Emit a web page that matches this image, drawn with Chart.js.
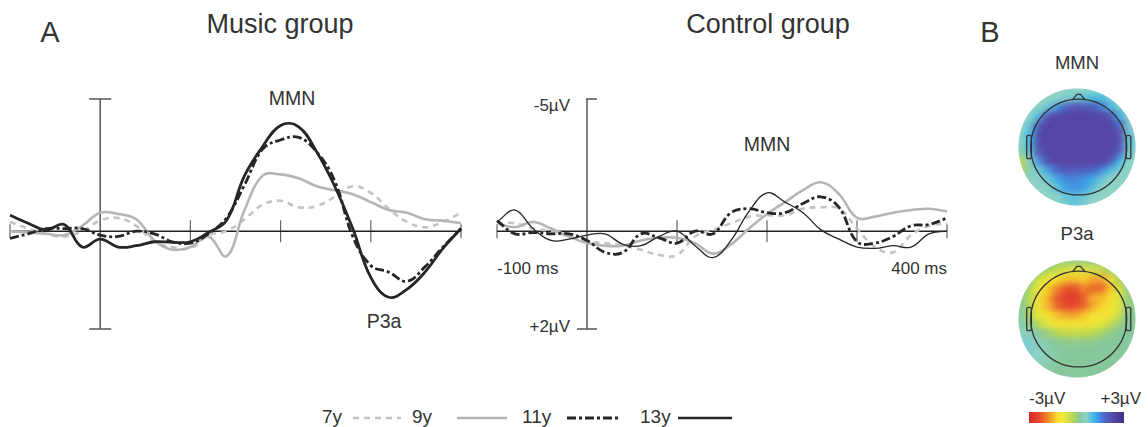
<!DOCTYPE html>
<html>
<head>
<meta charset="utf-8">
<script src="https://cdn.jsdelivr.net/npm/chart.js@4.4.1/dist/chart.umd.min.js"></script>
<style>
  body { margin: 0; background: #fff; width: 1148px; height: 427px; position: relative; overflow: hidden;
         font-family: "Liberation Sans", Arial, sans-serif; color: #333; }
  .t { position: absolute; white-space: nowrap; line-height: 1; transform: translate(-50%, -50%); }
  .r { transform: translate(-100%, -50%); }
  .l { transform: translate(0, -50%); }
  canvas { position: absolute; }
  svg { position: absolute; }
</style>
</head>
<body>
<div class="t" style="left:50px;top:32px;font-size:29px">A</div>
<div class="t" style="left:280px;top:24px;font-size:27px">Music group</div>
<div class="t" style="left:768px;top:24px;font-size:27px">Control group</div>
<div class="t" style="left:990px;top:32px;font-size:29px">B</div>

<div class="t" style="left:292px;top:99px;font-size:19.5px">MMN</div>
<div class="t" style="left:384px;top:322px;font-size:19.5px">P3a</div>
<div class="t" style="left:767px;top:145px;font-size:19.5px">MMN</div>
<div class="t r" style="left:570px;top:105px;font-size:17px">-5µV</div>
<div class="t r" style="left:570px;top:326px;font-size:17px">+2µV</div>
<div class="t l" style="left:497px;top:268px;font-size:17px">-100 ms</div>
<div class="t r" style="left:947px;top:268px;font-size:17px">400 ms</div>

<div class="t" style="left:1077px;top:63px;font-size:18.5px">MMN</div>
<div class="t" style="left:1077px;top:234px;font-size:18.5px">P3a</div>
<div class="t l" style="left:1029px;top:398px;font-size:17px">-3µV</div>
<div class="t r" style="left:1141px;top:398px;font-size:17px">+3µV</div>
<div id="cbar" style="position:absolute;left:1029px;top:412px;width:95px;height:11px"></div>

<!-- legend -->
<div class="t l" style="left:322px;top:416px;font-size:19px">7y</div>
<svg style="left:350px;top:410px" width="54" height="16"><line x1="3" y1="8" x2="51" y2="8" stroke="#c3c3c3" stroke-width="2.5" stroke-dasharray="6 5"/></svg>
<div class="t l" style="left:412px;top:416px;font-size:19px">9y</div>
<svg style="left:454px;top:410px" width="56" height="16"><line x1="3" y1="8" x2="53" y2="8" stroke="#b5b5b5" stroke-width="2.5"/></svg>
<div class="t l" style="left:522px;top:416px;font-size:19px">11y</div>
<svg style="left:564px;top:410px" width="60" height="16"><line x1="3" y1="8" x2="57" y2="8" stroke="#262626" stroke-width="3" stroke-dasharray="9 3 3 3"/></svg>
<div class="t l" style="left:640px;top:416px;font-size:19px">13y</div>
<svg style="left:676px;top:410px" width="58" height="16"><line x1="2" y1="8" x2="56" y2="8" stroke="#262626" stroke-width="2.5"/></svg>

<canvas id="music" width="480" height="270" style="left:0;top:80px"></canvas>
<canvas id="control" width="480" height="270" style="left:480px;top:80px"></canvas>
<canvas id="topoMMN" width="134" height="134" style="left:1010px;top:80px"></canvas>
<canvas id="topoP3a" width="134" height="134" style="left:1010px;top:252px"></canvas>

<script>
// time points (ms), values in µV (negative is up)
const times = [-100,-80,-60,-40,-20,0,20,40,60,80,100,120,140,160,180,200,220,240,260,280,300,320,340,360,380,400];

const music7  = [-0.35,-0.1,0.1,0.2,0.0,-0.4,-0.5,-0.2,0.4,0.6,0.65,0.15,0.0,-0.45,-1.0,-1.15,-0.9,-0.95,-1.3,-1.7,-1.45,-0.85,-0.35,-0.15,-0.35,-0.7];
const music9  = [0,0.05,0.1,0.15,-0.2,-0.7,-0.65,-0.45,0.35,0.7,0.6,0.2,0.95,-0.8,-2.1,-2.15,-2.0,-1.7,-1.55,-1.4,-1.1,-0.8,-0.7,-0.45,-0.4,-0.3];
const music11 = [0.27,0.1,-0.1,-0.1,-0.1,0.15,0.2,0.0,0.1,0.4,0.45,0.1,-0.5,-1.75,-3.1,-3.45,-3.55,-3.0,-1.9,0.2,1.3,1.55,1.9,1.35,0.6,-0.1];
const music13 = [-0.6,-0.3,-0.05,-0.25,0.6,0.3,0.6,0.55,0.4,0.42,0.4,0.05,-0.4,-2.1,-3.2,-4.0,-3.95,-3.0,-1.7,-0.1,1.75,2.5,2.2,1.55,0.65,-0.1];

const ctrl7  = [-0.3,-0.3,-0.1,0.0,0.2,0.4,0.45,0.55,0.7,0.9,0.9,0.2,-0.05,-0.3,-0.55,-0.6,-0.6,-0.85,-0.9,-0.85,-0.1,0.6,0.8,0.15,-0.2,-0.3];
const ctrl9  = [-0.3,-0.15,-0.35,-0.1,0.2,0.45,0.55,0.55,0.35,0.25,0.25,0.45,0.85,0.5,-0.1,-0.65,-1.1,-1.55,-1.85,-1.4,-0.5,-0.55,-0.7,-0.8,-0.85,-0.75];
const ctrl11 = [-0.4,0.1,0.05,0.1,0.1,0.35,0.8,0.8,0.1,0.25,0.45,0.0,0.1,-0.7,-0.85,-0.7,-0.7,-1.05,-1.3,-0.9,0.4,0.45,0.2,-0.2,-0.25,-0.5];
const ctrl13 = [-0.35,-0.8,-0.1,0.35,0.3,0.15,0.1,0.5,0.55,0.2,0.0,0.55,1.0,0.35,-0.75,-1.45,-1.1,-0.7,-0.05,0.3,0.6,0.65,0.55,0.6,0.1,0.0];

// topographic maps, 13x13 grid of µV, rows top (nose) to bottom
const topoMMN = [
  [0.6,0.6,0.6,0.6,0.6,0.6,0.6,0.6,0.6,0.6,0.6,0.6,0.6],
  [0.6,0.6,0.6,0.6,0.6,0.7,0.8,0.9,1.0,1.0,0.8,0.6,0.6],
  [0.6,0.6,0.6,0.8,1.3,1.9,2.1,2.1,2.0,1.6,1.0,0.7,0.6],
  [0.6,0.6,1.0,2.1,2.4,2.4,2.4,2.4,2.4,2.4,2.1,1.1,0.6],
  [0.6,0.8,2.0,2.4,2.4,2.4,2.4,2.4,2.4,2.4,2.4,1.8,0.7],
  [0.6,1.1,2.3,2.4,2.4,2.4,2.4,2.4,2.4,2.4,2.4,2.2,0.8],
  [0.6,1.1,2.3,2.4,2.4,2.4,2.4,2.4,2.4,2.4,2.4,2.2,0.8],
  [0.3,0.9,2.1,2.4,2.4,2.4,2.4,2.4,2.4,2.4,2.4,1.9,0.7],
  [-0.3,0.6,1.4,2.2,2.4,2.4,2.4,2.4,2.4,2.4,2.1,1.1,0.6],
  [-0.2,0.4,0.8,1.3,1.8,2.1,2.0,2.0,1.9,1.5,1.0,0.7,0.6],
  [0.3,0.6,0.6,0.8,1.2,1.5,1.5,1.4,1.2,0.8,0.6,0.6,0.6],
  [0.6,0.6,0.6,0.6,0.9,1.3,1.4,1.3,0.9,0.6,0.6,0.6,0.6],
  [0.6,0.6,0.6,0.6,0.6,0.8,0.9,0.8,0.6,0.6,0.6,0.6,0.6]
];
const topoP3a = [
  [0.2,0.2,0.2,0.2,0.1,0.0,0.0,0.0,0.0,0.1,0.2,0.2,0.2],
  [0.2,0.2,0.1,-0.2,-0.4,-0.6,-0.7,-0.6,-0.6,-0.4,-0.1,0.2,0.2],
  [0.2,0.1,-0.5,-0.9,-1.2,-1.4,-1.4,-1.3,-1.6,-1.6,-1.0,-0.2,0.2],
  [0.2,-0.2,-0.9,-1.3,-1.8,-2.2,-2.3,-1.8,-2.1,-2.1,-1.4,-0.5,0.1],
  [0.2,-0.3,-1.0,-1.5,-2.2,-2.6,-2.6,-2.2,-1.5,-1.5,-1.2,-0.6,0.1],
  [0.2,-0.3,-1.0,-1.5,-2.1,-2.4,-2.4,-2.1,-1.6,-1.3,-1.0,-0.6,0.1],
  [0.3,-0.2,-0.9,-1.1,-1.4,-1.6,-1.6,-1.4,-1.1,-1.0,-0.9,-0.4,0.2],
  [0.4,0.1,-0.3,-0.7,-1.0,-1.0,-1.0,-1.0,-0.9,-0.7,-0.4,0.0,0.2],
  [0.6,0.5,0.2,0.0,-0.3,-0.4,-0.4,-0.4,-0.3,-0.1,0.1,0.2,0.2],
  [0.7,0.7,0.5,0.3,0.2,0.1,0.1,0.1,0.1,0.2,0.2,0.2,0.2],
  [0.7,0.7,0.6,0.4,0.3,0.2,0.2,0.2,0.2,0.2,0.2,0.2,0.2],
  [0.6,0.6,0.5,0.4,0.3,0.2,0.2,0.2,0.2,0.2,0.2,0.2,0.2],
  [0.4,0.4,0.4,0.3,0.2,0.2,0.2,0.2,0.2,0.2,0.2,0.2,0.2]
];

// colour scale -3µV .. +3µV
const cmapStops = [
  [0.00, '#d3282c'], [0.12, '#e8502c'], [0.22, '#f39a2c'], [0.30, '#f5e02c'],
  [0.37, '#eee83c'], [0.46, '#b4d654'], [0.53, '#86c89a'], [0.60, '#8ed2c6'],
  [0.69, '#38b6ec'], [0.78, '#4a70d2'], [0.88, '#5a4aa8'], [1.00, '#3f2e8c']
];

function hex(c) { return [1, 3, 5].map(i => parseInt(c.substr(i, 2), 16)); }
function cmap(v) {
  const t = Math.max(0, Math.min(1, (v + 3) / 6));
  for (let k = 1; k < cmapStops.length; k++) {
    if (t <= cmapStops[k][0]) {
      const [t0, c0] = cmapStops[k - 1], [t1, c1] = cmapStops[k];
      const f = (t - t0) / (t1 - t0), a = hex(c0), b = hex(c1);
      return 'rgb(' + a.map((x, i) => Math.round(x + (b[i] - x) * f)).join(',') + ')';
    }
  }
  return cmapStops[cmapStops.length - 1][1];
}

document.getElementById('cbar').style.background =
  'linear-gradient(to right,' + cmapStops.map(s => s[1] + ' ' + (s[0] * 100) + '%').join(',') + ')';

// baseline, amplitude axis and time ticks drawn through the chart scales
const erpAxes = {
  id: 'erpAxes',
  beforeDatasetsDraw(chart, args, opts) {
    const { ctx, chartArea: a, scales: { x, y } } = chart;
    const y0 = y.getPixelForValue(0);
    const x0 = x.getPixelForValue(times.indexOf(0));
    ctx.save();
    // vertical amplitude axis
    ctx.strokeStyle = '#555';
    ctx.lineWidth = 1.5;
    ctx.beginPath();
    ctx.moveTo(x0, y.getPixelForValue(y.min));
    ctx.lineTo(x0, y.getPixelForValue(y.max));
    ctx.moveTo(x0 - opts.topCap[0], y.getPixelForValue(y.min));
    ctx.lineTo(x0 + opts.topCap[1], y.getPixelForValue(y.min));
    ctx.moveTo(x0 - opts.botCap[0], y.getPixelForValue(y.max));
    ctx.lineTo(x0 + opts.botCap[1], y.getPixelForValue(y.max));
    ctx.stroke();
    // time ticks every 100 ms
    ctx.strokeStyle = '#666';
    ctx.lineWidth = 1.2;
    ctx.beginPath();
    [-100, 100, 200, 300, 400].forEach(t => {
      const px = x.getPixelForValue(times.indexOf(t));
      const h = (t === -100 || t === 400) ? 7 : 11;
      ctx.moveTo(px, y0 - h);
      ctx.lineTo(px, y0 + h);
    });
    ctx.stroke();
    // zero line
    ctx.strokeStyle = '#222';
    ctx.lineWidth = 1.4;
    ctx.beginPath();
    ctx.moveTo(a.left, y0);
    ctx.lineTo(a.right, y0);
    ctx.stroke();
    ctx.restore();
  }
};

function erpChart(id, s7, s9, s11, s13, width13, pad, caps) {
  return new Chart(document.getElementById(id), {
    type: 'line',
    data: {
      labels: times,
      datasets: [
        { label: '7y', data: s7, borderColor: '#c3c3c3', borderWidth: 2.6, borderDash: [6, 5], order: 4 },
        { label: '9y', data: s9, borderColor: '#b5b5b5', borderWidth: 2.6, order: 3 },
        { label: '11y', data: s11, borderColor: '#262626', borderWidth: 2.8, borderDash: [9, 3, 3, 3], order: 2 },
        { label: '13y', data: s13, borderColor: '#262626', borderWidth: width13, order: 1 }
      ]
    },
    options: {
      responsive: false,
      animation: false,
      events: [],
      layout: { padding: pad },
      elements: { point: { radius: 0 }, line: { tension: 0.4, fill: false } },
      plugins: { legend: { display: false }, tooltip: { enabled: false }, erpAxes: caps },
      scales: {
        x: { display: false },
        y: { display: false, reverse: true, min: -5, max: 3.7 }
      }
    },
    plugins: [erpAxes]
  });
}

erpChart('music', music7, music9, music11, music13, 2.8,
  { left: 10, right: 19, top: 19, bottom: 21 },
  { topCap: [11, 11], botCap: [11, 11] });
erpChart('control', ctrl7, ctrl9, ctrl11, ctrl13, 1.3,
  { left: 17, right: 13, top: 19, bottom: 21 },
  { topCap: [1, 10], botCap: [10, 10] });

// topographic maps: grid cells as blurred points, clipped to the scalp disc
const topoPlugin = {
  id: 'topoHead',
  beforeDatasetsDraw(chart) {
    const { ctx, scales: { x, y } } = chart;
    const cx = x.getPixelForValue(0), cy = y.getPixelForValue(0);
    const r = x.getPixelForValue(1) - cx;
    ctx.save();
    ctx.beginPath();
    ctx.arc(cx, cy, r, 0, Math.PI * 2);
    ctx.clip();
    ctx.filter = 'blur(3px)';
  },
  afterDatasetsDraw(chart) {
    const { ctx, scales: { x, y } } = chart;
    ctx.restore();
    const px = v => x.getPixelForValue(v), py = v => y.getPixelForValue(v);
    const hx = 0.03, hr = 0.82;
    ctx.save();
    ctx.strokeStyle = '#333';
    ctx.lineWidth = 1.3;
    ctx.beginPath();
    ctx.arc(px(hx), py(0), px(hr) - px(0), 0, Math.PI * 2);
    ctx.stroke();
    // nose
    ctx.beginPath();
    ctx.moveTo(px(hx - 0.11), py(0.805));
    ctx.lineTo(px(hx - 0.03), py(0.9));
    ctx.lineTo(px(hx + 0.03), py(0.9));
    ctx.lineTo(px(hx + 0.11), py(0.805));
    ctx.stroke();
    // ears
    [[-0.86, -0.78], [0.84, 0.92]].forEach(([a, b]) => {
      ctx.beginPath();
      ctx.roundRect(px(a), py(0.2), px(b) - px(a), py(-0.2) - py(0.2), 2);
      ctx.stroke();
    });
    ctx.restore();
  }
};

function topoChart(id, grid) {
  const n = grid.length, pts = [], cols = [];
  grid.forEach((row, j) => row.forEach((v, i) => {
    pts.push({ x: -1 + (i + 0.5) * 2 / n, y: 1 - (j + 0.5) * 2 / n });
    cols.push(cmap(v));
  }));
  return new Chart(document.getElementById(id), {
    type: 'scatter',
    data: { datasets: [{ data: pts, backgroundColor: cols, borderWidth: 0, pointRadius: 8.5, clip: false }] },
    options: {
      responsive: false,
      animation: false,
      events: [],
      layout: { padding: 5 },
      plugins: { legend: { display: false }, tooltip: { enabled: false } },
      scales: {
        x: { display: false, min: -1, max: 1 },
        y: { display: false, min: -1, max: 1 }
      }
    },
    plugins: [topoPlugin]
  });
}

topoChart('topoMMN', topoMMN);
topoChart('topoP3a', topoP3a);
</script>
</body>
</html>
